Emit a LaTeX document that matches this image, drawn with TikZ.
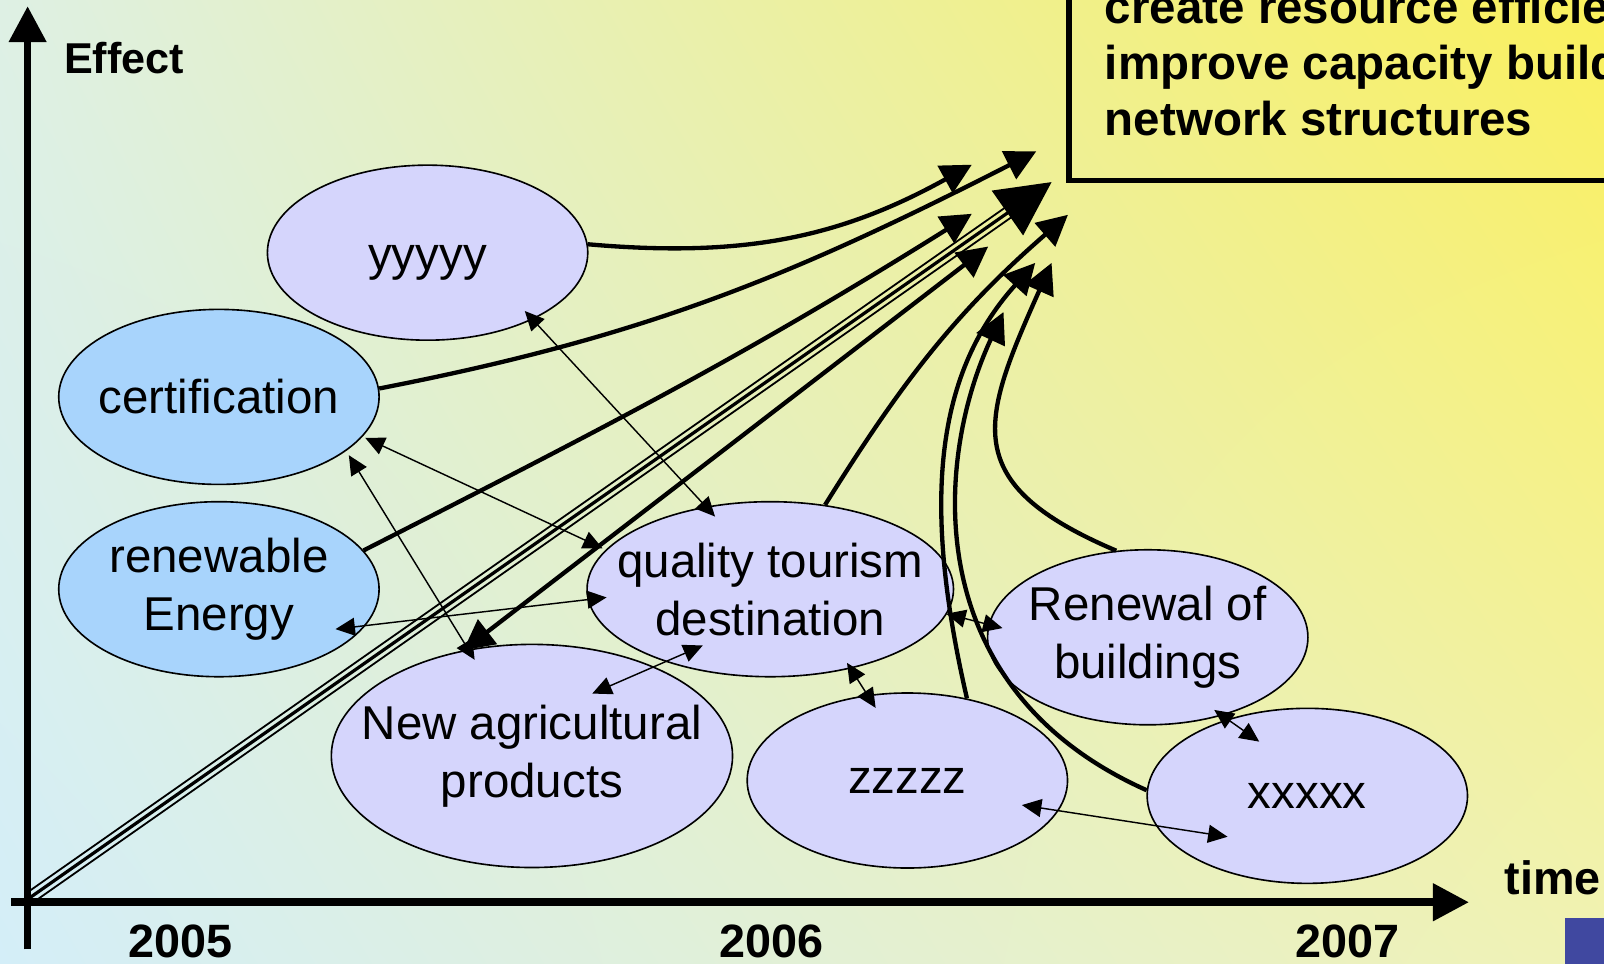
\documentclass[tikz,border=0pt]{standalone}
\usepackage{xcolor}
\usepackage{tikz}
\usepackage{fontspec}
\setmainfont{Liberation Sans}
\usetikzlibrary{positioning, shapes.geometric, arrows.meta, calc, shadings}
\definecolor{lilac}{RGB}{213,213,252}
\definecolor{paleblue}{RGB}{168,212,252}
\definecolor{slideblue}{RGB}{64,72,160}
\definecolor{bgUL}{RGB}{222,240,228}
\definecolor{bgUR}{RGB}{250,240,92}
\definecolor{bgLL}{RGB}{212,238,248}
\definecolor{bgLR}{RGB}{240,242,180}
\tikzstyle{bubble} = [ellipse, draw=black, line width=0.45pt, inner sep=0pt, minimum width=3.13cm, minimum height=1.71cm]
\tikzstyle{link} = [line width=1.2pt, ->]
\tikzstyle{tie} = [line width=0.4pt, {Triangle[length=5.4pt, width=5pt]}-{Triangle[length=5.4pt, width=5pt]}]
\tikzstyle{axis} = [line width=2.1pt, -{Triangle[length=10pt, width=10pt]}]
\tikzstyle{tag} = [inner sep=0pt, font=\fontsize{13}{15}\selectfont\bfseries]

\begin{document}
\begin{tikzpicture}[x=0.01cm, y=0.01cm, >={Triangle[length=8.5pt, width=8.5pt]}, every node/.style={font=\fontsize{13.2}{16.2}\selectfont}]
	\useasboundingbox (0,0) rectangle (1568,942);
	\clip (0,0) rectangle (1568,942);
	\shade[upper left=bgUL, upper right=bgUR, lower left=bgLL, lower right=bgLR] (0,0) rectangle (1568,942);
	\fill[slideblue] (1530,0) rectangle (1580,45);

	\node[tag, draw, line width=1.4pt, outer sep=0pt, inner xsep=10pt, inner ysep=12.2pt, align=left, anchor=south west, font=\fontsize{13.2}{15.6}\selectfont\bfseries] (goal) at (1045,766) {create resource efficient\\improve capacity building\\network structures};

	\draw[axis] (27,14) -- (27,936);
	\draw[axis] (11,60) -- (1436,60);
	\node[tag, font=\fontsize{12}{14}\selectfont\bfseries, anchor=base west] (effect) at (62,870) {Effect};
	\node[tag, anchor=base west] (time) at (1470,68) {time};
	\node[tag, anchor=base] (y05) at (176,6) {2005};
	\node[tag, anchor=base] (y06) at (754,6) {2006};
	\node[tag, anchor=base] (y07) at (1317,6) {2007};

	\node[bubble, fill=lilac, label={[yshift=-2.8pt]center:yyyyy}] (yy) at (418,695) {};
	\node[bubble, fill=paleblue, label={center:certification}] (cert) at (214,554) {};
	\node[bubble, fill=paleblue, label={[align=center]center:renewable\\Energy}] (renew) at (214,366) {};
	\node[bubble, fill=lilac, minimum width=3.58cm, label={[align=center]center:quality tourism\\destination}] (qual) at (753,366) {};
	\node[bubble, fill=lilac, minimum width=3.92cm, minimum height=2.18cm, label={[align=center]center:New agricultural\\products}] (agri) at (520,203) {};
	\node[bubble, fill=lilac, label={center:zzzzz}] (zz) at (887,179) {};
	\node[bubble, fill=lilac, label={[align=center]center:Renewal of\\buildings}] (bldg) at (1122,319) {};
	\node[bubble, fill=lilac, label={center:xxxxx}] (xx) at (1278,164) {};

	\coordinate (orig) at (30,65);
	\coordinate (aim1) at (950,781);
	\coordinate (aim2) at (1013,794);
	\coordinate (aim3) at (950,733);
	\coordinate (aim4) at (1028,764);
	\coordinate (aim5) at (966,701);
	\coordinate (aim6) at (1044,732);
	\coordinate (aim7) at (1012,685);
	\coordinate (aim8) at (1028,685);
	\coordinate (aim9) at (981,637);

	\draw[tie] ($(yy)+(95,-57)$) -- ($(qual)+(-54,71)$);
	\draw[tie] ($(cert)+(143,-40)$) -- ($(qual)+(-164,40)$);
	\draw[tie] ($(cert)+(127,-57)$) -- ($(agri)+(-56,94)$);
	\draw[tie] ($(renew)+(114,-39)$) -- ($(qual)+(-160,-8)$);
	\draw[tie] ($(agri)+(59,61)$) -- ($(qual)+(-66,-55)$);
	\draw[tie] ($(qual)+(75,-72)$) -- ($(zz)+(-31,71)$);
	\draw[tie] ($(qual)+(172,-24)$) -- ($(bldg)+(-142,9)$);
	\draw[tie] ($(bldg)+(65,-71)$) -- ($(xx)+(-47,53)$);
	\draw[tie] ($(zz)+(112,-24)$) -- ($(xx)+(-78,-40)$);

	\draw[line width=0.9pt, -{Triangle[length=15pt, width=15pt]}] (orig) -- (aim4);
	\draw[line width=0.5pt, shorten >=9pt] ($(orig)!1.6pt!90:(aim4)$) -- ($(aim4)!1.6pt!-90:(orig)$);
	\draw[line width=0.5pt, shorten >=9pt] ($(orig)!1.6pt!-90:(aim4)$) -- ($(aim4)!1.6pt!90:(orig)$);

	\draw[link] (yy.3) to[out=-5, in=209] (aim1);
	\draw[link] (cert.3) to[out=11, in=207] (aim2);
	\draw[link] (renew.15) to[out=27, in=212] (aim3);
	\draw[link, <->] (agri.123) -- (aim5);
	\draw[link] (qual.57) to[out=58, in=221] (aim6);
	\draw[link] (zz.54) .. controls +(103:190) and +(228:150) .. (aim7);
	\draw[link] (bldg.110) to[out=157, in=246, looseness=1.5] (aim8);
	\draw[link] (xx.178) .. controls +(156:245) and +(245:160) .. (aim9);
\end{tikzpicture}
\end{document}
